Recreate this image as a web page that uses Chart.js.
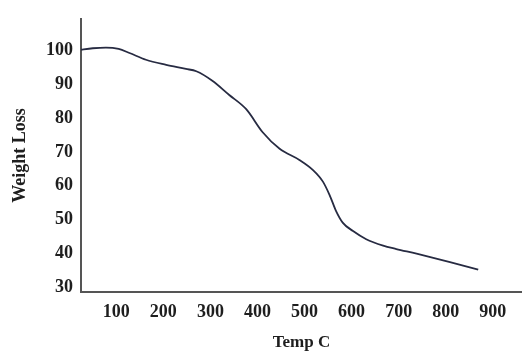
<!DOCTYPE html>
<html>
<head>
<meta charset="utf-8">
<title>Weight Loss vs Temp</title>
<script src="https://cdn.jsdelivr.net/npm/chart.js@4"></script>
<style>
  html, body { margin: 0; padding: 0; background: #fff; }
  #wrap { width: 522px; height: 353px; position: relative; }
</style>
</head>
<body>
<div id="wrap"><canvas id="myChart"></canvas></div>
<script>
// values (temperature in C, weight in %)
let temps = [21, 50, 78, 105, 128, 163, 206, 248, 270, 304, 340, 376, 411, 447, 489, 518, 539, 553, 567, 581, 603, 631, 667, 695, 738, 809, 869]
let weights = [100.1, 100.6, 100.8, 100.4, 99.2, 97.2, 95.7, 94.5, 93.8, 91.0, 86.8, 82.6, 75.8, 70.9, 67.6, 64.6, 61.2, 57.3, 52.5, 49.1, 46.6, 44.2, 42.3, 41.3, 39.9, 37.4, 35.2]

// tick labels on both axes
let xTicks = [100, 200, 300, 400, 500, 600, 700, 800, 900]
let yTicks = [30, 40, 50, 60, 70, 80, 90, 100]

// build the point list for the line
let points = []
for (let i = 0; i < temps.length; i++) {
    points.push({ x: temps[i], y: weights[i] })
}

let serif = "'Liberation Serif', 'DejaVu Serif', serif"

let ctx = document.getElementById('myChart').getContext('2d')
let chart = new Chart(ctx, {
    type: 'line',
    data: {
        datasets: [{
            label: 'Weight Loss',
            data: points,
            borderColor: '#272b42',
            borderWidth: 1.8,
            pointRadius: 0,
            cubicInterpolationMode: 'monotone',
            fill: false
        }]
    },
    options: {
        responsive: true,
        maintainAspectRatio: false,
        animation: false,
        layout: { padding: { top: 15, right: 0, left: 0, bottom: 0 } },
        plugins: {
            legend: { display: false },
            tooltip: { enabled: false }
        },
        scales: {
            x: {
                type: 'linear',
                min: 25,
                max: 962,
                grid: { display: false, drawTicks: false },
                border: { display: true, color: '#555', width: 2 },
                ticks: {
                    padding: 10,
                    color: '#1e1e1e',
                    font: { family: serif, size: 18, weight: 'bold' }
                },
                // put labels only at 100..900
                afterBuildTicks: function(scale) {
                    scale.ticks = xTicks.map(v => ({ value: v }))
                },
                afterFit: function(scale) { scale.height = 61 },
                title: {
                    display: true,
                    text: 'Temp C',
                    color: '#1e1e1e',
                    padding: { top: 0, bottom: 0 },
                    font: { family: serif, size: 17, weight: 'bold' }
                }
            },
            y: {
                type: 'linear',
                min: 28.6,
                max: 109.3,
                grid: { display: false, drawTicks: false },
                border: { display: true, color: '#555', width: 2 },
                ticks: {
                    padding: 8,
                    color: '#1e1e1e',
                    font: { family: serif, size: 18, weight: 'bold' }
                },
                afterBuildTicks: function(scale) {
                    scale.ticks = yTicks.map(v => ({ value: v }))
                },
                afterFit: function(scale) { scale.width = 81 },
                title: {
                    display: true,
                    text: 'Weight Loss',
                    color: '#1e1e1e',
                    padding: { top: 10, bottom: 0 },
                    font: { family: serif, size: 18, weight: 'bold' }
                }
            }
        }
    }
})
</script>
</body>
</html>
